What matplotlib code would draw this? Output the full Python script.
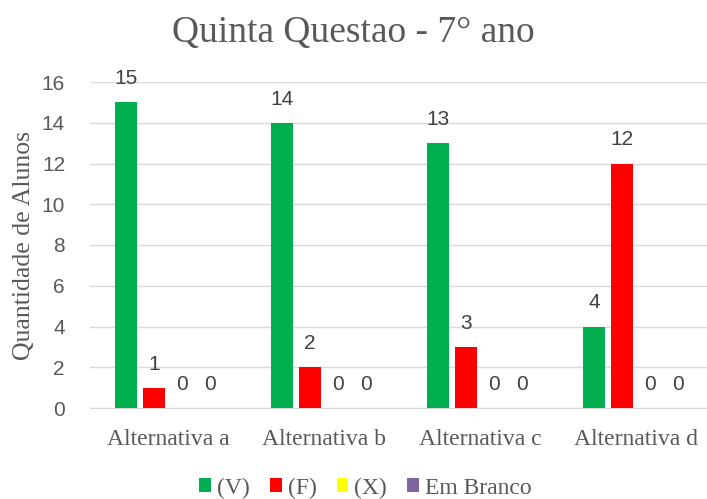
import matplotlib.pyplot as plt
import numpy as np

categories = ["Alternativa a", "Alternativa b", "Alternativa c", "Alternativa d"]
series_names = ["(V)", "(F)", "(X)", "Em Branco"]
v_values = [15, 14, 13, 4]
f_values = [1, 2, 3, 12]
x_values = [0, 0, 0, 0]
branco_values = [0, 0, 0, 0]
colors = ["#00b050", "#ff0000", "#ffff00", "#8064a2"]

serif = ["Liberation Serif", "DejaVu Serif"]
sans = ["Liberation Sans", "DejaVu Sans"]
gray = "#595959"

fig = plt.figure(figsize=(7.07, 4.99), dpi=100)
ax = fig.add_axes([90 / 707, 91 / 499, 617 / 707, 326 / 499])

x = np.arange(len(categories))
step = 0.18
width = 0.145
all_series = [v_values, f_values, x_values, branco_values]
handles = []
for i, vals in enumerate(all_series):
    pos = x + (i - 1.5) * step
    bars = ax.bar(pos, vals, width, color=colors[i], label=series_names[i], zorder=3)
    handles.append(bars)
    # value labels, even for zero bars
    for px, v in zip(pos, vals):
        ax.annotate(str(v), (px, v), xytext=(0, 17), textcoords="offset points",
                    ha="center", va="center", fontsize=15, family=sans, color="#404040")

ax.set_xlim(-0.5, -0.5 + 617 / 156)
ax.set_ylim(0, 16)
ax.set_yticks(range(0, 17, 2))
ax.set_xticks(x)
ax.set_xticklabels(categories, family=serif, fontsize=17, color=gray)
for lab in ax.get_yticklabels():
    lab.set_family(sans)
    lab.set_fontsize(15)
    lab.set_color(gray)

ax.grid(axis="y", color="#d9d9d9", linewidth=1, zorder=0)
for s in ["top", "right", "left"]:
    ax.spines[s].set_visible(False)
ax.spines["bottom"].set_color("#d9d9d9")
ax.tick_params(axis="both", length=0)
ax.tick_params(axis="x", pad=15)
ax.tick_params(axis="y", pad=18)

ax.set_ylabel("Quantidade de Alunos", family=serif, fontsize=18.5, color=gray, labelpad=5)
fig.text(0.5, 0.934, "Quinta Questao - 7° ano", family=serif, fontsize=27,
         color=gray, ha="center", va="center")

fig.legend(handles=handles, loc="center", bbox_to_anchor=(0.517, 0.022), ncol=4,
           frameon=False, prop={"family": serif, "size": 17}, labelcolor=gray,
           handlelength=0.5, handleheight=0.5, handletextpad=0.25, columnspacing=0.85)

fig.savefig("out.png", dpi=100)
